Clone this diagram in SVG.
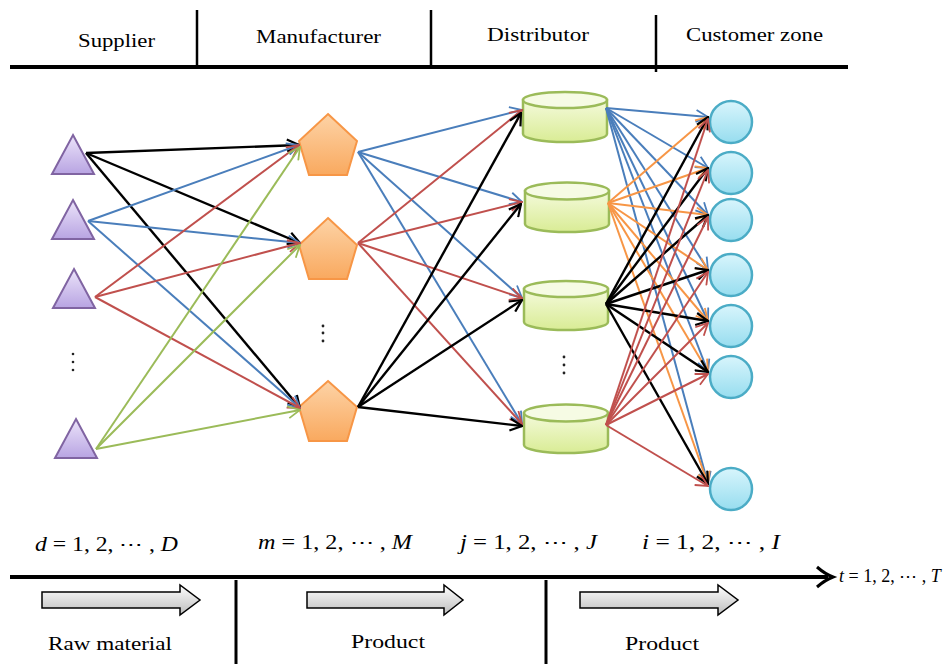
<svg xmlns="http://www.w3.org/2000/svg" width="945" height="664" viewBox="0 0 945 664">
<style>
text{font-family:"Liberation Serif","DejaVu Serif",serif;font-size:19px;fill:#000}
.m{font-size:20px}
.it{font-style:italic}
.rule{stroke:#000;fill:none}
.tri{fill:url(#gTri);stroke:#8064a2;stroke-width:2}
.pen{fill:url(#gPen);stroke:#f79646;stroke-width:2}
.cyl{fill:url(#gCyl);stroke:#9bbb59;stroke-width:2.5}
.cyltop{fill:#f6fbe4;stroke:#9bbb59;stroke-width:2.5}
.cir{fill:url(#gCir);stroke:#4bacc6;stroke-width:2.5}
.dot{fill:#222}
.e{fill:none;stroke-width:2}
.bk{stroke:#000;stroke-width:2.4;marker-end:url(#aBk)}
.bl{stroke:#4a7ebb;marker-end:url(#aBl)}
.rd{stroke:#c0504d;marker-end:url(#aRd)}
.gr{stroke:#9bbb59;marker-end:url(#aGr)}
.or{stroke:#f79646;marker-end:url(#aOr)}
.blk{fill:url(#gBlk);stroke:#000;stroke-width:1.5}
</style>
<defs>
<linearGradient id="gTri" x1="0" y1="0" x2="0" y2="1"><stop offset="0" stop-color="#ece4fa"/><stop offset="1" stop-color="#b8a4e2"/></linearGradient>
<linearGradient id="gPen" x1="0" y1="0" x2="0" y2="1"><stop offset="0" stop-color="#fdd3a6"/><stop offset="1" stop-color="#f9a95f"/></linearGradient>
<linearGradient id="gCyl" x1="0" y1="0" x2="0" y2="1"><stop offset="0" stop-color="#f4fadb"/><stop offset="1" stop-color="#d9ec95"/></linearGradient>
<linearGradient id="gCir" x1="0" y1="0" x2="0" y2="1"><stop offset="0" stop-color="#d8f5fc"/><stop offset="1" stop-color="#97ddef"/></linearGradient>
<linearGradient id="gBlk" x1="0" y1="0" x2="0" y2="1"><stop offset="0" stop-color="#ffffff"/><stop offset="1" stop-color="#bdbdbd"/></linearGradient>
<marker id="aBk" viewBox="0 0 14 14" refX="13" refY="7" markerWidth="14" markerHeight="14" markerUnits="userSpaceOnUse" orient="auto"><path d="M1,1 L13,7 L1,13" fill="none" stroke="#000" stroke-width="2.2"/></marker>
<marker id="aBl" viewBox="0 0 14 14" refX="13" refY="7" markerWidth="14" markerHeight="14" markerUnits="userSpaceOnUse" orient="auto"><path d="M1,1 L13,7 L1,13" fill="none" stroke="#4a7ebb" stroke-width="1.8"/></marker>
<marker id="aRd" viewBox="0 0 14 14" refX="13" refY="7" markerWidth="14" markerHeight="14" markerUnits="userSpaceOnUse" orient="auto"><path d="M1,1 L13,7 L1,13" fill="none" stroke="#c0504d" stroke-width="1.8"/></marker>
<marker id="aGr" viewBox="0 0 14 14" refX="13" refY="7" markerWidth="14" markerHeight="14" markerUnits="userSpaceOnUse" orient="auto"><path d="M1,1 L13,7 L1,13" fill="none" stroke="#9bbb59" stroke-width="1.8"/></marker>
<marker id="aOr" viewBox="0 0 14 14" refX="13" refY="7" markerWidth="14" markerHeight="14" markerUnits="userSpaceOnUse" orient="auto"><path d="M1,1 L13,7 L1,13" fill="none" stroke="#f79646" stroke-width="1.8"/></marker>
</defs>
<rect width="945" height="664" fill="#fff"/>

<g id="header">
<line class="rule" x1="10" y1="67" x2="848" y2="67" stroke-width="4"/>
<line class="rule" x1="197" y1="10" x2="197" y2="67" stroke-width="2.5"/>
<line class="rule" x1="431" y1="10" x2="431" y2="67" stroke-width="2.5"/>
<line class="rule" x1="656" y1="15" x2="656" y2="72" stroke-width="2.5"/>
<text x="78" y="47" textLength="77" lengthAdjust="spacingAndGlyphs">Supplier</text>
<text x="256" y="43" textLength="125" lengthAdjust="spacingAndGlyphs">Manufacturer</text>
<text x="487" y="41" textLength="102" lengthAdjust="spacingAndGlyphs">Distributor</text>
<text x="686" y="41" textLength="137" lengthAdjust="spacingAndGlyphs">Customer zone</text>
</g>

<g id="supplier1"><polygon class="tri" points="73,135 94,174 52,174"/></g>
<g id="supplier2"><polygon class="tri" points="73,200 94,239 52,239"/></g>
<g id="supplier3"><polygon class="tri" points="74,269 95,308 53,308"/></g>
<g id="supplier-dots"><circle class="dot" cx="73" cy="354" r="1.3"/><circle class="dot" cx="73" cy="362" r="1.3"/><circle class="dot" cx="73" cy="370" r="1.3"/></g>
<g id="supplier4"><polygon class="tri" points="76,419 97,458 55,458"/></g>

<g id="manufacturer1"><polygon class="pen" points="328,114 357,141 347,175 309,175 299,141"/></g>
<g id="manufacturer2"><polygon class="pen" points="328,218 357,245 347,279 309,279 299,245"/></g>
<g id="manufacturer-dots"><circle class="dot" cx="323" cy="326" r="1.4"/><circle class="dot" cx="323" cy="333" r="1.4"/><circle class="dot" cx="323" cy="341" r="1.4"/></g>
<g id="manufacturer3"><polygon class="pen" points="328,381 357,407 347,441 309,441 299,407"/></g>

<g id="distributor1"><path class="cyl" d="M523,100 L523,134 A42,8 0 0 0 607,134 L607,100 Z"/><ellipse class="cyltop" cx="565" cy="100" rx="42" ry="8"/></g>
<g id="distributor2"><path class="cyl" d="M525,191 L525,224 A42,8 0 0 0 609,224 L609,191 Z"/><ellipse class="cyltop" cx="567" cy="191" rx="42" ry="8.5"/></g>
<g id="distributor3"><path class="cyl" d="M524,289 L524,322 A42,8 0 0 0 608,322 L608,289 Z"/><ellipse class="cyltop" cx="566" cy="289" rx="42" ry="8"/></g>
<g id="distributor-dots"><circle class="dot" cx="564" cy="357" r="1.4"/><circle class="dot" cx="564" cy="365" r="1.4"/><circle class="dot" cx="564" cy="373" r="1.4"/></g>
<g id="distributor4"><path class="cyl" d="M524,413 L524,445 A42,8 0 0 0 608,445 L608,413 Z"/><ellipse class="cyltop" cx="566" cy="413" rx="42" ry="8.5"/></g>

<g id="customer1"><circle class="cir" cx="731" cy="122" r="21"/></g>
<g id="customer2"><circle class="cir" cx="731" cy="173" r="21"/></g>
<g id="customer3"><circle class="cir" cx="731" cy="220" r="21"/></g>
<g id="customer4"><circle class="cir" cx="731" cy="275" r="21"/></g>
<g id="customer5"><circle class="cir" cx="731" cy="326" r="21"/></g>
<g id="customer6"><circle class="cir" cx="731" cy="377" r="21"/></g>
<g id="customer7"><circle class="cir" cx="731" cy="489" r="21"/></g>

<g id="connectors" class="e">
<line class="e bk" x1="86" y1="153" x2="299" y2="145"/>
<line class="e bk" x1="86" y1="153" x2="300" y2="243"/>
<line class="e bk" x1="86" y1="153" x2="300" y2="408"/>
<line class="e bl" x1="88" y1="221" x2="299" y2="145"/>
<line class="e bl" x1="88" y1="221" x2="300" y2="243"/>
<line class="e bl" x1="88" y1="221" x2="300" y2="408"/>
<line class="e rd" x1="95" y1="297" x2="299" y2="145"/>
<line class="e rd" x1="95" y1="297" x2="300" y2="243"/>
<line class="e rd" x1="95" y1="297" x2="300" y2="408"/>
<line class="e gr" x1="96" y1="449" x2="300" y2="147"/>
<line class="e gr" x1="96" y1="449" x2="300" y2="245"/>
<line class="e gr" x1="96" y1="449" x2="300" y2="410"/>
<line class="e bl" x1="358" y1="152" x2="522" y2="110"/>
<line class="e bl" x1="358" y1="152" x2="522" y2="202"/>
<line class="e bl" x1="358" y1="152" x2="522" y2="298"/>
<line class="e bl" x1="358" y1="152" x2="522" y2="424"/>
<line class="e rd" x1="358" y1="243" x2="522" y2="110"/>
<line class="e rd" x1="358" y1="243" x2="522" y2="202"/>
<line class="e rd" x1="358" y1="243" x2="522" y2="298"/>
<line class="e rd" x1="358" y1="243" x2="522" y2="424"/>
<line class="e bk" x1="358" y1="407" x2="521" y2="113"/>
<line class="e bk" x1="358" y1="407" x2="521" y2="204"/>
<line class="e bk" x1="358" y1="407" x2="522" y2="300"/>
<line class="e bk" x1="358" y1="407" x2="522" y2="426"/>
<line class="e bl" x1="606" y1="108" x2="708" y2="117"/>
<line class="e bl" x1="606" y1="108" x2="708" y2="168"/>
<line class="e bl" x1="606" y1="108" x2="708" y2="215"/>
<line class="e bl" x1="606" y1="108" x2="708" y2="270"/>
<line class="e bl" x1="606" y1="108" x2="708" y2="321"/>
<line class="e bl" x1="606" y1="108" x2="708" y2="372"/>
<line class="e bl" x1="606" y1="108" x2="708" y2="484"/>
<line class="e or" x1="608" y1="203" x2="708" y2="117"/>
<line class="e or" x1="608" y1="203" x2="708" y2="168"/>
<line class="e or" x1="608" y1="203" x2="708" y2="215"/>
<line class="e or" x1="608" y1="203" x2="708" y2="270"/>
<line class="e or" x1="608" y1="203" x2="708" y2="321"/>
<line class="e or" x1="608" y1="203" x2="708" y2="372"/>
<line class="e or" x1="608" y1="203" x2="708" y2="484"/>
<line class="e bk" x1="606" y1="304" x2="708" y2="117"/>
<line class="e bk" x1="606" y1="304" x2="708" y2="168"/>
<line class="e bk" x1="606" y1="304" x2="708" y2="215"/>
<line class="e bk" x1="606" y1="304" x2="708" y2="270"/>
<line class="e bk" x1="606" y1="304" x2="708" y2="321"/>
<line class="e bk" x1="606" y1="304" x2="708" y2="372"/>
<line class="e bk" x1="606" y1="304" x2="708" y2="484"/>
<line class="e rd" x1="606" y1="425" x2="708" y2="119"/>
<line class="e rd" x1="606" y1="425" x2="708" y2="170"/>
<line class="e rd" x1="606" y1="425" x2="708" y2="217"/>
<line class="e rd" x1="606" y1="425" x2="708" y2="272"/>
<line class="e rd" x1="606" y1="425" x2="708" y2="323"/>
<line class="e rd" x1="606" y1="425" x2="708" y2="374"/>
<line class="e rd" x1="606" y1="425" x2="708" y2="486"/>
</g>

<g id="indices">
<text class="m" x="35" y="551" textLength="143" lengthAdjust="spacingAndGlyphs"><tspan class="it">d</tspan> = 1, 2, ⋯ , <tspan class="it">D</tspan></text>
<text class="m" x="258" y="549" textLength="154" lengthAdjust="spacingAndGlyphs"><tspan class="it">m</tspan> = 1, 2, ⋯ , <tspan class="it">M</tspan></text>
<text class="m" x="460" y="549" textLength="137" lengthAdjust="spacingAndGlyphs"><tspan class="it">j</tspan> = 1, 2, ⋯ , <tspan class="it">J</tspan></text>
<text class="m" x="642" y="549" textLength="138" lengthAdjust="spacingAndGlyphs"><tspan class="it">i</tspan> = 1, 2, ⋯ , <tspan class="it">I</tspan></text>
</g>

<g id="timeline">
<line class="rule" x1="10" y1="577" x2="828" y2="577" stroke-width="4"/>
<path d="M817,567 Q825,574 833,577 Q825,580 817,587" fill="none" stroke="#000" stroke-width="3"/>
<text x="839" y="582" style="font-size:18px"><tspan class="it">t</tspan> = 1, 2, ⋯ , <tspan class="it">T</tspan></text>
<line class="rule" x1="236" y1="580" x2="236" y2="664" stroke-width="3"/>
<line class="rule" x1="546" y1="580" x2="546" y2="664" stroke-width="3"/>
</g>

<g id="flow1"><polygon class="blk" points="42,592 180,592 180,585 200,600 180,615 180,608 42,608"/><text x="48" y="650" textLength="124" lengthAdjust="spacingAndGlyphs">Raw material</text></g>
<g id="flow2"><polygon class="blk" points="307,592 444,592 444,585 463,600 444,615 444,608 307,608"/><text x="351" y="648" textLength="74" lengthAdjust="spacingAndGlyphs">Product</text></g>
<g id="flow3"><polygon class="blk" points="580,592 718,592 718,585 738,600 718,615 718,608 580,608"/><text x="625" y="650" textLength="74" lengthAdjust="spacingAndGlyphs">Product</text></g>
</svg>
